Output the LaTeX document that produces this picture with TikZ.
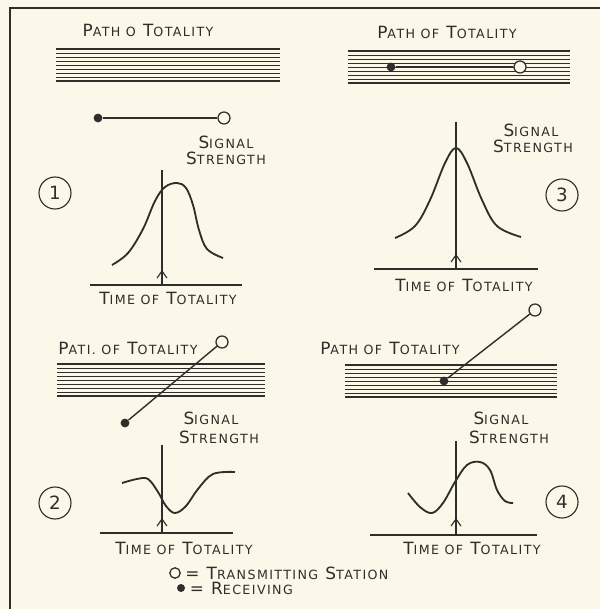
\documentclass[tikz,border=0pt]{standalone}
\usepackage{fontspec}
\setmainfont[LetterSpace=11]{DejaVu Sans}
\usepackage{xcolor}
\usepackage{tikz}
\usetikzlibrary{arrows, arrows.meta, positioning, calc}

\definecolor{paper}{HTML}{FBF8EA}
\definecolor{ink}{HTML}{2E2E2A}

% small capitals by hand
\newcommand{\sml}[1]{{\fontsize{9}{9}\selectfont #1}}

% hatched band for the path of totality
\newcommand{\totband}[3]{%
  \draw[bandedge] (#1,#3) -- (#2,#3);
  \foreach \k in {1,...,7} {
    \draw[bandline] (#1,#3+4*\k) -- (#2,#3+4*\k);
  }
  \draw[bandedge] (#1,#3+32) -- (#2,#3+32);
}

\begin{document}
\begin{tikzpicture}[x=0.025cm, y=-0.025cm,
    every node/.style={text=ink, font=\fontsize{12}{12}\selectfont},
    lbl/.style={inner sep=0pt},
    bandedge/.style={ink, line width=1.4pt},
    bandline/.style={ink, line width=0.5pt},
    axis/.style={ink, line width=0.8pt},
    chev/.style={ink, line width=0.8pt, -{Straight Barb[length=5pt, width=7pt]}},
    curve/.style={ink, line width=1.3pt},
    tx/.style={circle, draw=ink, fill=paper, line width=0.9pt, minimum size=0.3cm, inner sep=0pt},
    rx/.style={circle, fill=ink, minimum size=0.22cm, inner sep=0pt},
    link/.style={ink, line width=1pt},
    num/.style={circle, draw=ink, line width=0.8pt, minimum size=0.8cm, inner sep=0pt,
      font=\fontsize{13}{13}\selectfont}]

  \useasboundingbox[fill=paper] (0,0) rectangle (600,609);
  \draw[ink, line width=1.2pt] (10,609) -- (10,8) -- (600,8);

  % panel 1
  \node[lbl] (title1) at (148,30) {P\sml{ATH O} T\sml{OTALITY}};
  \totband{56}{280}{49}
  \node[rx] (rx1) at (98,118) {};
  \node[tx] (tx1) at (224,118) {};
  \draw[link] (rx1) -- (tx1);
  \node[lbl] (sig1) at (226,142) {S\sml{IGNAL}};
  \node[lbl] (str1) at (226,158) {S\sml{TRENGTH}};
  \node[num] (n1) at (55,193) {1};
  \coordinate (o1) at (162,285);
  \draw[axis] (90,285) -- (242,285);
  \draw[axis] (o1) -- (162,170);
  \draw[chev] (o1) -- (162,270);
  \draw[curve] plot[smooth, tension=0.6] coordinates {(112,265) (128,253) (143,229)
    (155,201) (165,187) (177,183) (186,188) (193,205) (199,230) (207,249) (223,258)};
  \node[lbl] (time1) at (168,298) {T\sml{IME OF} T\sml{OTALITY}};

  % panel 3
  \node[lbl] (title3) at (447,32) {P\sml{ATH OF} T\sml{OTALITY}};
  \totband{348}{570}{51}
  \node[rx] (rx3) at (391,67) {};
  \node[tx] (tx3) at (520,67) {};
  \draw[link] (rx3) -- (tx3);
  \node[lbl] (sig3) at (531,130) {S\sml{IGNAL}};
  \node[lbl] (str3) at (533,146) {S\sml{TRENGTH}};
  \node[num] (n3) at (562,195) {3};
  \coordinate (o3) at (456,269);
  \draw[axis] (374,269) -- (538,269);
  \draw[axis] (o3) -- (456,122);
  \draw[chev] (o3) -- (456,254);
  \draw[curve] plot[smooth, tension=0.6] coordinates {(395,238) (415,226) (430,200)
    (445,163) (456,148) (467,163) (482,200) (497,226) (521,237)};
  \node[lbl] (time3) at (464,285) {T\sml{IME OF} T\sml{OTALITY}};

  % panel 2
  \node[lbl] (title2) at (128,348) {P\sml{ATI. OF} T\sml{OTALITY}};
  \totband{57}{265}{364}
  \node[tx] (tx2) at (222,342) {};
  \node[rx] (rx2) at (125,423) {};
  \draw[link] (rx2) -- (tx2);
  \node[lbl] (sig2) at (211,418) {S\sml{IGNAL}};
  \node[lbl] (str2) at (219,437) {S\sml{TRENGTH}};
  \node[num] (n2) at (55,503) {2};
  \coordinate (o2) at (162,533);
  \draw[axis] (100,533) -- (233,533);
  \draw[axis] (o2) -- (162,445);
  \draw[chev] (o2) -- (162,518);
  \draw[curve] plot[smooth, tension=0.6] coordinates {(122,483) (137,479) (148,479)
    (158,492) (166,506) (175,513) (186,506) (198,489) (213,474) (235,472)};
  \node[lbl] (time2) at (184,548) {T\sml{IME OF} T\sml{OTALITY}};

  % panel 4
  \node[lbl] (title4) at (390,348) {P\sml{ATH OF} T\sml{OTALITY}};
  \totband{345}{557}{365}
  \node[tx] (tx4) at (535,310) {};
  \node[rx] (rx4) at (444,381) {};
  \draw[link] (rx4) -- (tx4);
  \node[lbl] (sig4) at (501,418) {S\sml{IGNAL}};
  \node[lbl] (str4) at (509,437) {S\sml{TRENGTH}};
  \node[num] (n4) at (562,502) {4};
  \coordinate (o4) at (456,535);
  \draw[axis] (370,535) -- (537,535);
  \draw[axis] (o4) -- (456,441);
  \draw[chev] (o4) -- (456,518);
  \draw[curve] plot[smooth, tension=0.6] coordinates {(408,493) (420,507) (432,513)
    (443,503) (455,482) (467,465) (480,462) (490,470) (497,490) (505,501) (513,503)};
  \node[lbl] (time4) at (472,548) {T\sml{IME OF} T\sml{OTALITY}};

  % key
  \node[tx, minimum size=0.26cm] (keytx) at (175,573) {};
  \node[lbl, right=3pt of keytx] (keytxt) {= T\sml{RANSMITTING} S\sml{TATION}};
  \node[rx, minimum size=0.2cm] (keyrx) at (181,588) {};
  \node[lbl, right=3pt of keyrx] (keyrxt) {= R\sml{ECEIVING}};
\end{tikzpicture}
\end{document}
